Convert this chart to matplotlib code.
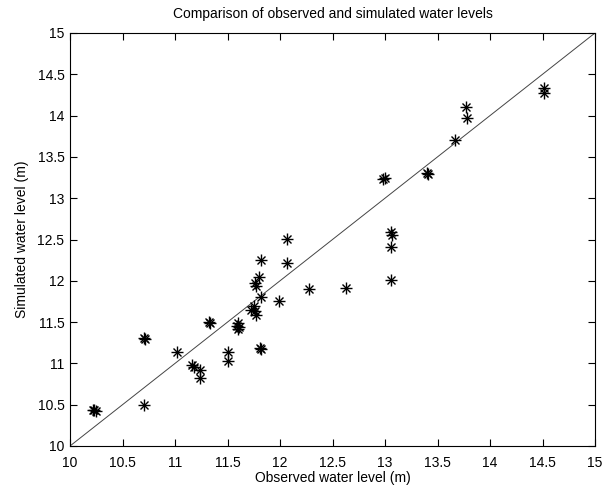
import matplotlib as mpl
mpl.use('Agg')
import matplotlib.pyplot as plt

# observed vs simulated water levels (m)
observed = [10.22, 10.23, 10.25, 10.70, 10.71, 10.70, 11.02, 11.16, 11.18, 11.24,
            11.24, 11.32, 11.33, 11.50, 11.50, 11.59, 11.60, 11.61, 11.60, 11.72,
            11.75, 11.76, 11.77, 11.81, 11.82, 11.82, 11.80, 11.76, 11.77, 11.82,
            11.99, 12.07, 12.07, 12.28, 12.63, 12.98, 13.00, 13.06, 13.07, 13.06,
            13.06, 13.40, 13.41, 13.67, 13.77, 13.78, 14.51, 14.51]
simulated = [10.43, 10.44, 10.42, 11.31, 11.29, 10.50, 11.14, 10.98, 10.96, 10.92,
             10.82, 11.50, 11.49, 11.14, 11.03, 11.45, 11.49, 11.44, 11.42, 11.65,
             11.69, 11.63, 11.59, 11.19, 11.17, 12.25, 12.04, 11.97, 11.94, 11.80,
             11.75, 12.51, 12.22, 11.90, 11.91, 13.23, 13.25, 12.59, 12.56, 12.41,
             12.01, 13.31, 13.29, 13.71, 14.10, 13.97, 14.34, 14.27]
limits = [10, 15]
ticks = [10, 10.5, 11, 11.5, 12, 12.5, 13, 13.5, 14, 14.5, 15]
tick_labels = ['10', '10.5', '11', '11.5', '12', '12.5', '13', '13.5', '14', '14.5', '15']

plt.rcParams['font.family'] = ['Liberation Sans', 'DejaVu Sans']

fig = plt.figure(figsize=(6.04, 4.93), dpi=100)
ax = fig.add_axes([70 / 604, 1 - 446 / 493, 525 / 604, 413 / 493])

ax.plot(limits, limits, color='#444444', linewidth=0.7)
# matlab style '*' marker: a plus with a smaller cross on top
ax.plot(observed, simulated, linestyle='none', marker='+',
        markersize=9, color='black', markeredgewidth=1.0)
ax.plot(observed, simulated, linestyle='none', marker='x',
        markersize=5.5, color='black', markeredgewidth=1.0)

ax.set_xlim(limits)
ax.set_ylim(limits)
ax.set_xticks(ticks)
ax.set_xticklabels(tick_labels)
ax.set_yticks(ticks)
ax.set_yticklabels(tick_labels)
ax.tick_params(direction='in', top=True, right=True, length=5, width=0.8,
               labelsize=10)
ax.tick_params(axis='x', pad=7)
ax.tick_params(axis='y', pad=4)
for s in ax.spines.values():
    s.set_linewidth(0.8)

ax.set_title('Comparison of observed and simulated water levels', fontsize=10, pad=11)
ax.set_xlabel('Observed water level (m)', fontsize=10, labelpad=1)
ax.set_ylabel('Simulated water level (m)', fontsize=10, labelpad=6)

fig.savefig('out.png', dpi=100)
